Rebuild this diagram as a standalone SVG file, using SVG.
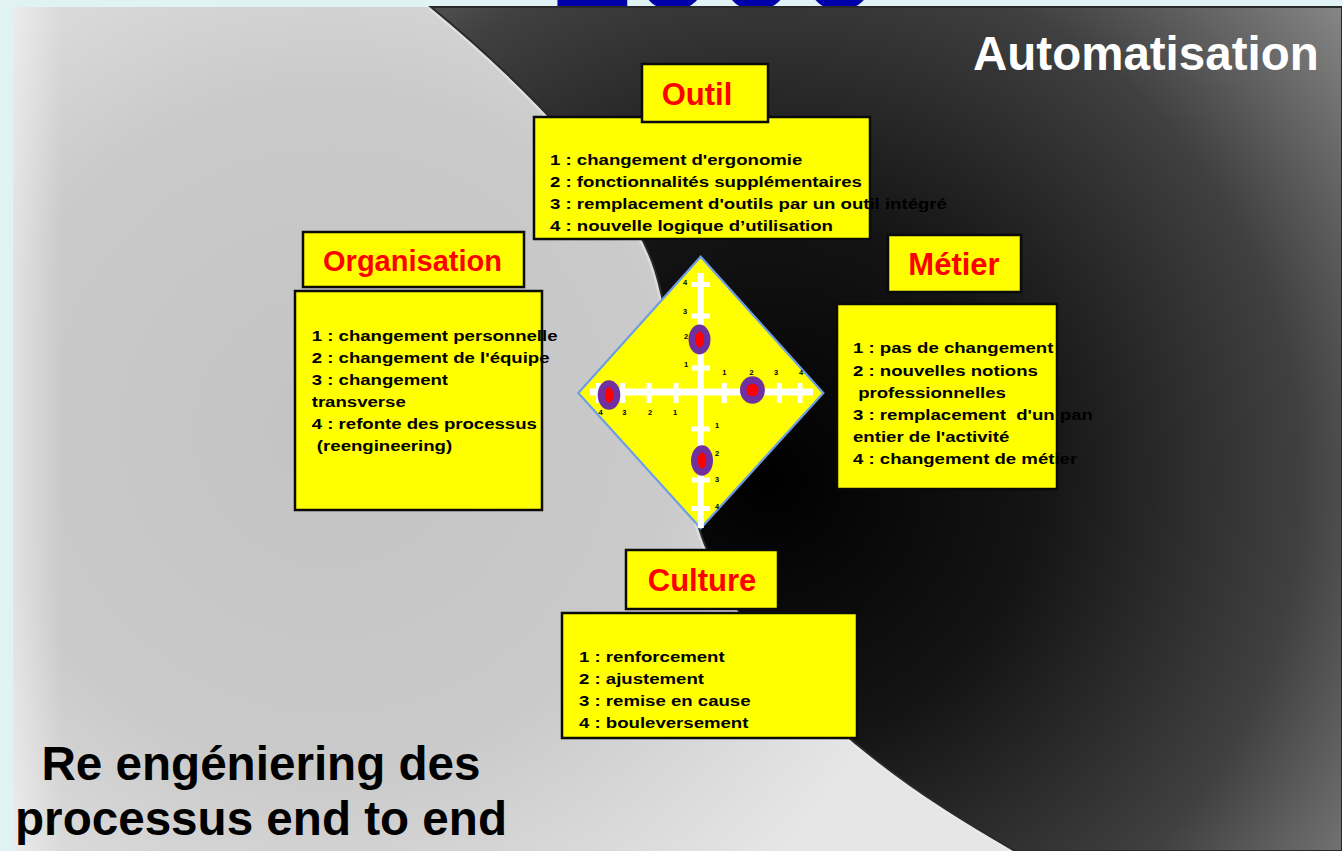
<svg xmlns="http://www.w3.org/2000/svg" width="1342" height="851" viewBox="0 0 1342 851">
  <style>
    .box { fill: #ffff00; stroke: #0a0a0a; stroke-width: 2.5; }
    .hdr { font-family: "Liberation Sans", Arial, sans-serif; font-weight: bold; fill: #ff0000; text-anchor: middle; }
    .body { font-family: "Liberation Sans", Arial, sans-serif; font-weight: bold; font-size: 15.5px; fill: #000; white-space: pre; }
    .big { font-family: "Liberation Sans", Arial, sans-serif; font-weight: bold; }
    .tick { fill: #ffffff; }
    .num { font-family: "Liberation Sans", Arial, sans-serif; font-weight: bold; font-size: 7.5px; fill: #000; text-anchor: middle; }
    .outer { fill: #70309f; }
    .inner { fill: #ff0000; }
  </style>
  <defs>
    <radialGradient id="lightBg" gradientUnits="userSpaceOnUse" cx="330" cy="430" r="620">
      <stop offset="0" stop-color="#c3c3c3"/>
      <stop offset="0.55" stop-color="#cacaca"/>
      <stop offset="1" stop-color="#e6e6e6"/>
    </radialGradient>
    <radialGradient id="darkBg" gradientUnits="userSpaceOnUse" cx="770" cy="480" r="760">
      <stop offset="0" stop-color="#000000"/>
      <stop offset="0.35" stop-color="#141414"/>
      <stop offset="0.7" stop-color="#404040"/>
      <stop offset="1" stop-color="#8c8c8c"/>
    </radialGradient>
    <linearGradient id="leftEdge" x1="0" y1="0" x2="1" y2="0">
      <stop offset="0" stop-color="#ffffff" stop-opacity="0.45"/>
      <stop offset="1" stop-color="#ffffff" stop-opacity="0"/>
    </linearGradient>
  </defs>

  <!-- page background -->
  <rect x="0" y="0" width="1342" height="851" fill="#e1f2f4"/>
  <!-- partially hidden blue title (cut by the picture, as in the source) -->
  <text class="big" x="548" y="9" font-size="150" fill="#0000aa">1000</text>

  <!-- picture background -->
  <rect x="13" y="7" width="1329" height="844" fill="url(#lightBg)"/>
  <rect x="13" y="7" width="50" height="844" fill="url(#leftEdge)"/>
  <path d="M431,7 C520,80 630,190 655,270 C680,350 675,470 705,545 C740,630 800,700 870,755 C920,795 970,825 1015,851" fill="none" stroke="#eeeeee" stroke-opacity="0.5" stroke-width="7"/>
  <path d="M431,7 C520,80 630,190 655,270 C680,350 675,470 705,545 C740,630 800,700 870,755 C920,795 970,825 1015,851 L1342,851 L1342,7 Z" fill="url(#darkBg)" stroke="#2a2a2a" stroke-width="2"/>

  <g id="connectors"></g>

  <!-- diamond -->
  <g id="node-diamond">
    <polygon points="700.7,256.7 823.3,393 700.7,528.3 578.3,393" fill="#ffff00" stroke="#6c9ee8" stroke-width="2.2"/>
    <rect class="tick" x="697.8" y="273" width="6" height="255"/>
    <rect class="tick" x="590" y="388.5" width="223" height="7"/>
    <rect class="tick" x="691.5" y="282" width="18.5" height="5"/>
    <rect class="tick" x="691.5" y="313.5" width="18.5" height="5"/>
    <rect class="tick" x="691.5" y="339" width="18.5" height="5"/>
    <rect class="tick" x="691.5" y="365.5" width="18.5" height="5"/>
    <rect class="tick" x="691.5" y="426.5" width="18.5" height="5"/>
    <rect class="tick" x="691.5" y="453" width="18.5" height="5"/>
    <rect class="tick" x="691.5" y="477.5" width="18.5" height="5"/>
    <rect class="tick" x="691.5" y="506" width="18.5" height="5"/>
    <rect class="tick" x="721.8" y="383" width="5" height="20"/>
    <rect class="tick" x="749" y="383" width="5" height="20"/>
    <rect class="tick" x="776.8" y="383" width="5" height="20"/>
    <rect class="tick" x="797.5" y="383" width="5" height="20"/>
    <rect class="tick" x="673.5" y="383" width="5" height="20"/>
    <rect class="tick" x="646.5" y="383" width="5" height="20"/>
    <rect class="tick" x="620.2" y="383" width="5" height="20"/>
    <rect class="tick" x="596" y="383" width="5" height="20"/>
    <text class="num" x="685" y="285">4</text>
    <text class="num" x="685" y="313.5">3</text>
    <text class="num" x="686" y="338.5">2</text>
    <text class="num" x="686" y="367">1</text>
    <text class="num" x="717" y="427.5">1</text>
    <text class="num" x="717" y="455.5">2</text>
    <text class="num" x="717" y="481.5">3</text>
    <text class="num" x="717" y="508.5">4</text>
    <text class="num" x="724.3" y="375">1</text>
    <text class="num" x="751.7" y="375">2</text>
    <text class="num" x="776" y="375">3</text>
    <text class="num" x="801" y="375">4</text>
    <text class="num" x="675" y="414.5">1</text>
    <text class="num" x="650" y="414.5">2</text>
    <text class="num" x="624.3" y="414.5">3</text>
    <text class="num" x="600.7" y="414.5">4</text>
    <ellipse class="outer" cx="699.5" cy="339.5" rx="11" ry="15"/>
    <ellipse class="inner" cx="699.5" cy="339.5" rx="4.3" ry="8"/>
    <ellipse class="outer" cx="609" cy="395" rx="11.3" ry="14.7"/>
    <ellipse class="inner" cx="609" cy="395" rx="4.3" ry="7.7"/>
    <ellipse class="outer" cx="752.5" cy="390" rx="12.5" ry="13.7"/>
    <ellipse class="inner" cx="752.5" cy="390" rx="6" ry="6.3"/>
    <ellipse class="outer" cx="702" cy="460.5" rx="11" ry="15.3"/>
    <ellipse class="inner" cx="702" cy="460.5" rx="4.3" ry="8"/>
  </g>

  <!-- Outil -->
  <g id="node-outil">
    <rect class="box" x="534" y="117" width="336" height="122"/>
    <text class="body" transform="matrix(1.2 0 0 1 550 164.5)">1 : changement d'ergonomie</text>
    <text class="body" transform="matrix(1.2 0 0 1 550 187)">2 : fonctionnalités supplémentaires</text>
    <text class="body" transform="matrix(1.2 0 0 1 550 209)">3 : remplacement d'outils par un outil intégré</text>
    <text class="body" transform="matrix(1.2 0 0 1 550 231)">4 : nouvelle logique d’utilisation</text>
    <rect class="box" x="642" y="64" width="126" height="58"/>
    <text class="hdr" x="697" y="105" font-size="31">Outil</text>
  </g>

  <!-- Organisation -->
  <g id="node-organisation">
    <rect class="box" x="295" y="291" width="247" height="219"/>
    <text class="body" transform="matrix(1.2 0 0 1 311.7 341)">1 : changement personnelle</text>
    <text class="body" transform="matrix(1.2 0 0 1 311.7 363)">2 : changement de l'équipe</text>
    <text class="body" transform="matrix(1.2 0 0 1 311.7 385)">3 : changement</text>
    <text class="body" transform="matrix(1.2 0 0 1 311.7 407)">transverse</text>
    <text class="body" transform="matrix(1.2 0 0 1 311.7 429)">4 : refonte des processus</text>
    <text class="body" xml:space="preserve" transform="matrix(1.2 0 0 1 311.7 451)"> (reengineering)</text>
    <rect class="box" x="303" y="232" width="221" height="55"/>
    <text class="hdr" x="412.5" y="271" font-size="29">Organisation</text>
  </g>

  <!-- Métier -->
  <g id="node-metier">
    <rect class="box" x="837" y="304" width="220" height="185"/>
    <text class="body" transform="matrix(1.2 0 0 1 853 353)">1 : pas de changement</text>
    <text class="body" transform="matrix(1.2 0 0 1 853 375.5)">2 : nouvelles notions</text>
    <text class="body" xml:space="preserve" transform="matrix(1.2 0 0 1 853 397.5)"> professionnelles</text>
    <text class="body" xml:space="preserve" transform="matrix(1.2 0 0 1 853 419.5)">3 : remplacement  d'un pan</text>
    <text class="body" transform="matrix(1.2 0 0 1 853 441.5)">entier de l'activité</text>
    <text class="body" transform="matrix(1.2 0 0 1 853 463.5)">4 : changement de métier</text>
    <rect class="box" x="888" y="235" width="133" height="57"/>
    <text class="hdr" x="954" y="275" font-size="31">Métier</text>
  </g>

  <!-- Culture -->
  <g id="node-culture">
    <rect class="box" x="562" y="613" width="295" height="125"/>
    <text class="body" transform="matrix(1.2 0 0 1 579 661.5)">1 : renforcement</text>
    <text class="body" transform="matrix(1.2 0 0 1 579 683.5)">2 : ajustement</text>
    <text class="body" transform="matrix(1.2 0 0 1 579 705.5)">3 : remise en cause</text>
    <text class="body" transform="matrix(1.2 0 0 1 579 727.5)">4 : bouleversement</text>
    <rect class="box" x="626" y="550" width="152" height="59"/>
    <text class="hdr" x="702" y="591" font-size="31">Culture</text>
  </g>

  <g id="label-automatisation">
    <text class="big" x="973" y="70" font-size="47.5" fill="#ffffff">Automatisation</text>
  </g>
  <g id="label-reengineering">
    <text class="big" x="261" y="780" font-size="47.6" fill="#000000" text-anchor="middle">Re engéniering des</text>
    <text class="big" x="261" y="835" font-size="47.6" fill="#000000" text-anchor="middle">processus end to end</text>
  </g>
</svg>
